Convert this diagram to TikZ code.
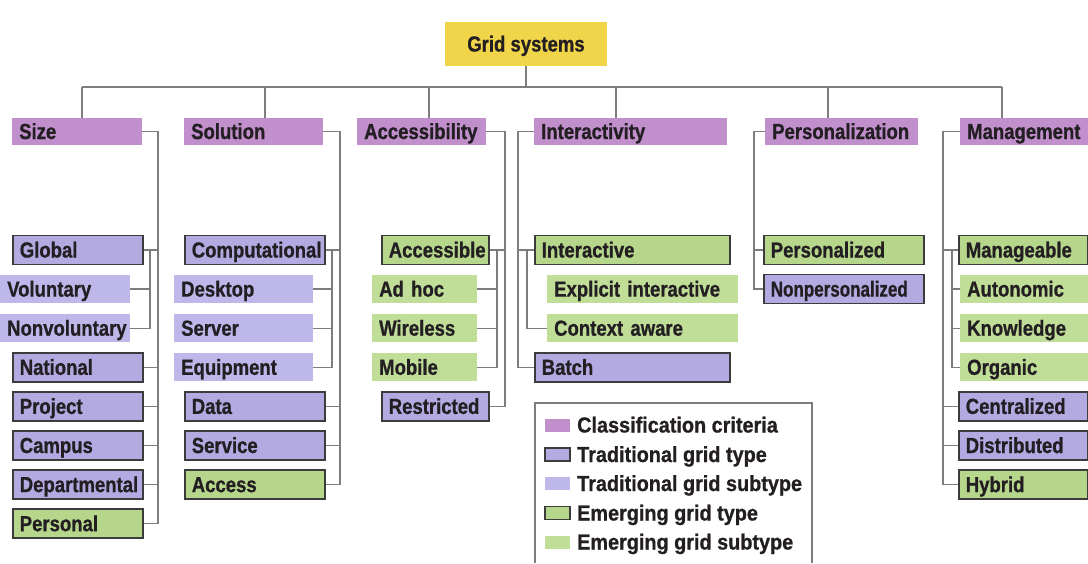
\documentclass[tikz,border=0pt]{standalone}
\usepackage{fontspec}
\newfontfamily\dfont{Liberation Sans}[FakeStretch=0.85,FakeBold=0.8]
\newfontfamily\dfontn{Liberation Sans}[FakeStretch=0.78,FakeBold=0.8]
\newfontfamily\lfont{Liberation Sans}[FakeStretch=0.91,FakeBold=0.8]
\definecolor{critc}{RGB}{192,143,204}
\definecolor{ttc}{RGB}{178,170,224}
\definecolor{tsc}{RGB}{190,184,234}
\definecolor{etc}{RGB}{182,214,140}
\definecolor{esc}{RGB}{192,222,152}
\definecolor{yelc}{RGB}{240,212,74}
\definecolor{bordc}{RGB}{60,60,60}
\definecolor{linec}{RGB}{125,125,125}
\definecolor{txtc}{RGB}{34,30,34}
\begin{document}
\begin{tikzpicture}[x=1pt,y=-1pt,
  base/.style={anchor=west, inner xsep=7pt, inner ysep=0pt, text height=15pt, text depth=0pt,
    align=left, font=\dfont\bfseries\fontsize{21.8}{22}\selectfont, text=txtc},
  crit/.style={base, fill=critc, minimum height=27pt},
  ttype/.style={base, fill=ttc, draw=bordc, line width=1.6pt, minimum height=29pt},
  tsub/.style={base, fill=tsc, minimum height=28pt},
  etype/.style={base, fill=etc, draw=bordc, line width=1.6pt, minimum height=29pt},
  esub/.style={base, fill=esc, minimum height=28pt},
  conn/.style={draw=linec, line width=1.3pt},
  sw/.style={minimum width=25pt, minimum height=13pt, inner sep=0pt},
  swb/.style={sw, draw=bordc, line width=1.4pt},
  ltxt/.style={anchor=west, inner sep=0pt, text height=15pt, text depth=0pt,
    font=\lfont\bfseries\fontsize{21.8}{22}\selectfont, text=txtc},
  legbox/.style={draw=linec, line width=1.2pt}
]
\useasboundingbox (0,0) rectangle (1088,563);

% root
\node[base, anchor=center, align=center, fill=yelc, minimum width=162pt, minimum height=44pt] (root) at (526,44) {Grid systems};

% criteria
\node[crit, text width=116pt] (size) at (12,131.5) {Size};
\node[crit, text width=125pt] (solution) at (184,131.5) {Solution};
\node[crit, text width=115pt] (accessibility) at (357,131.5) {Accessibility};
\node[crit, text width=179pt] (interactivity) at (534,131.5) {Interactivity};
\node[crit, text width=139pt] (personalization) at (765,131.5) {Personalization};
\node[crit, text width=114pt] (management) at (960,131.5) {Management};

% bus
\coordinate (b1) at (82,87);
\coordinate (b2) at (265,87);
\coordinate (b3) at (429,87);
\coordinate (b4) at (616,87);
\coordinate (b5) at (828,87);
\coordinate (b6) at (1002,87);
\draw[conn] (b1) -- (b6);
\draw[conn] (root.south) -- (root.south |- b1);
\draw[conn] (b1) -- (b1 |- size.north);
\draw[conn] (b2) -- (b2 |- solution.north);
\draw[conn] (b3) -- (b3 |- accessibility.north);
\draw[conn] (b4) -- (b4 |- interactivity.north);
\draw[conn] (b5) -- (b5 |- personalization.north);
\draw[conn] (b6) -- (b6 |- management.north);

% Size column
\node[ttype, text width=116pt] (global) at (12,250) {Global};
\node[tsub, text width=116pt] (volun) at (0,289.1) {Voluntary};
\node[tsub, text width=116pt] (nonvol) at (0,328.2) {Nonvoluntary};
\node[ttype, text width=116pt] (national) at (12,367.3) {National};
\node[ttype, text width=116pt] (project) at (12,406.4) {Project};
\node[ttype, text width=116pt] (campus) at (12,445.5) {Campus};
\node[ttype, text width=116pt] (depart) at (12,484.6) {Departmental};
\node[etype, text width=116pt] (personal) at (12,523.7) {Personal};
\coordinate (sv1) at (158,0);
\coordinate (ss1) at (150,0);
\draw[conn] (size.east) -| (sv1 |- personal.east) -- (personal.east);
\foreach \n in {global,national,project,campus,depart} \draw[conn] (\n.east) -- (\n.east -| sv1);
\draw[conn] (global.east -| ss1) |- (nonvol.east);
\draw[conn] (volun.east) -- (volun.east -| ss1);

% Solution column
\node[ttype, text width=126pt] (comput) at (184,250) {Computational};
\node[tsub, text width=125pt] (desktop) at (174,289.1) {Desktop};
\node[tsub, text width=125pt] (server) at (174,328.2) {Server};
\node[tsub, text width=125pt] (equip) at (174,367.3) {Equipment};
\node[ttype, text width=126pt] (data) at (184,406.4) {Data};
\node[ttype, text width=126pt] (service) at (184,445.5) {Service};
\node[etype, text width=126pt] (access) at (184,484.6) {Access};
\coordinate (sv2) at (340,0);
\coordinate (ss2) at (332,0);
\draw[conn] (solution.east) -| (sv2 |- access.east) -- (access.east);
\foreach \n in {comput,data,service} \draw[conn] (\n.east) -- (\n.east -| sv2);
\draw[conn] (comput.east -| ss2) |- (equip.east);
\foreach \n in {desktop,server} \draw[conn] (\n.east) -- (\n.east -| ss2);

% Accessibility column
\node[etype, text width=93pt] (accessible) at (381,250) {Accessible};
\node[esub, text width=91pt] (adhoc) at (372,289.1) {Ad hoc};
\node[esub, text width=91pt] (wireless) at (372,328.2) {Wireless};
\node[esub, text width=91pt] (mobile) at (372,367.3) {Mobile};
\node[ttype, text width=93pt] (restricted) at (381,406.4) {Restricted};
\coordinate (sv3) at (505,0);
\coordinate (ss3) at (497,0);
\draw[conn] (accessibility.east) -| (sv3 |- restricted.east) -- (restricted.east);
\draw[conn] (accessible.east) -- (accessible.east -| sv3);
\draw[conn] (accessible.east -| ss3) |- (mobile.east);
\foreach \n in {adhoc,wireless} \draw[conn] (\n.east) -- (\n.east -| ss3);

% Interactivity column
\node[etype, text width=181pt] (interactive) at (534,250) {Interactive};
\node[esub, text width=177pt] (explicit) at (547,289.1) {Explicit interactive};
\node[esub, text width=177pt] (context) at (547,328.2) {Context aware};
\node[ttype, text width=181pt] (batch) at (534,367.3) {Batch};
\coordinate (sv4) at (518,0);
\coordinate (ss4) at (527,0);
\draw[conn] (interactivity.west) -| (sv4 |- batch.west) -- (batch.west);
\draw[conn] (interactive.west) -- (interactive.west -| sv4);
\draw[conn] (interactive.west -| ss4) |- (context.west);

% Personalization column
\node[etype, text width=146pt] (personalized) at (763,250) {Personalized};
\node[ttype, text width=146pt, font=\dfontn\bfseries\fontsize{21.8}{22}\selectfont] (nonpers) at (763,289.1) {Nonpersonalized};
\coordinate (sv5) at (754,0);
\draw[conn] (personalization.west) -| (sv5 |- nonpers.west) -- (nonpers.west);
\draw[conn] (personalized.west) -- (personalized.west -| sv5);

% Management column
\node[etype, text width=115pt] (manageable) at (958,250) {Manageable};
\node[esub, text width=114pt] (autonomic) at (960,289.1) {Autonomic};
\node[esub, text width=114pt] (knowledge) at (960,328.2) {Knowledge};
\node[esub, text width=114pt] (organic) at (960,367.3) {Organic};
\node[ttype, text width=115pt] (centralized) at (958,406.4) {Centralized};
\node[ttype, text width=115pt] (distributed) at (958,445.5) {Distributed};
\node[etype, text width=115pt] (hybrid) at (958,484.6) {Hybrid};
\coordinate (sv6) at (943,0);
\coordinate (ss6) at (952,0);
\draw[conn] (management.west) -| (sv6 |- hybrid.west) -- (hybrid.west);
\foreach \n in {manageable,centralized,distributed} \draw[conn] (\n.west) -- (\n.west -| sv6);
\draw[conn] (manageable.west -| ss6) |- (organic.west);
\foreach \n in {autonomic,knowledge} \draw[conn] (\n.west) -- (\n.west -| ss6);

% Legend
\draw[legbox] (535,563) -- (535,403) -- (812,403) -- (812,563);
\node[sw, fill=critc] (k1) at (557.5,425) {};
\node[swb, fill=ttc] (k2) at (557.5,454.5) {};
\node[sw, fill=tsc] (k3) at (557.5,483.5) {};
\node[swb, fill=etc] (k4) at (557.5,513) {};
\node[sw, fill=esc] (k5) at (557.5,542) {};
\node[ltxt] (t1) at (577,425) {Classification criteria};
\node[ltxt] (t2) at (577,454.5) {Traditional grid type};
\node[ltxt] (t3) at (577,483.5) {Traditional grid subtype};
\node[ltxt] (t4) at (577,513) {Emerging grid type};
\node[ltxt] (t5) at (577,542) {Emerging grid subtype};
\end{tikzpicture}
\end{document}
